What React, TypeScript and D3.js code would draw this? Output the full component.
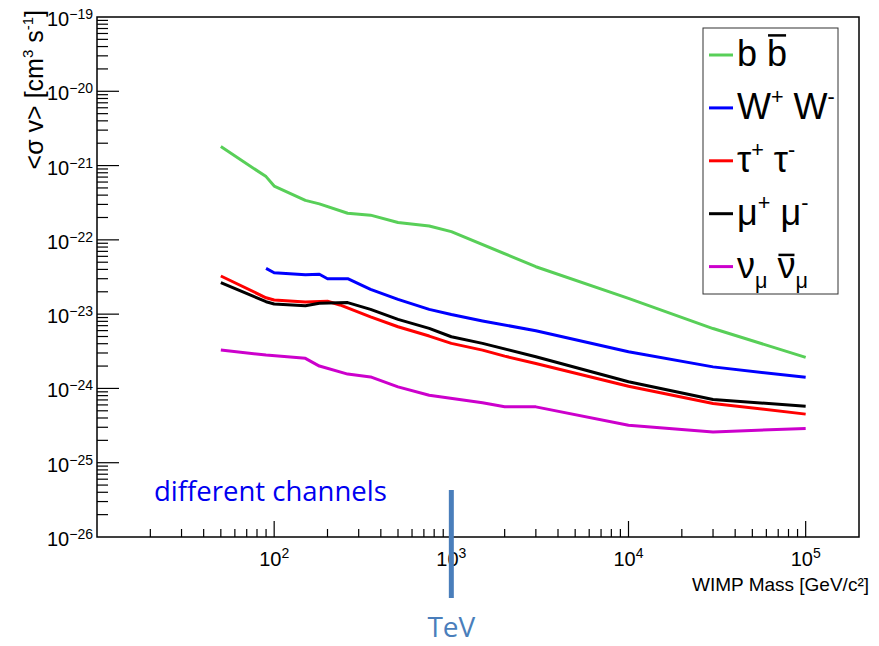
import React, { useRef, useEffect } from 'react';
import * as d3 from 'd3';

// canvas + frame
const width = 879;
const height = 646;
const frameLeft = 97;
const frameRight = 859;
const frameTop = 17;
const frameBottom = 537;

const axisFont = 'Liberation Sans, Arial, sans-serif';
const slideFont = 'Open Sans, sans-serif';

// data (mass in GeV, <sigma v> in cm^3 s^-1)
const bbMass = [50, 90, 100, 150, 180, 260, 350, 500, 750, 1000, 3000, 10000, 30000, 100000];
const bbSigma = [1.8e-21, 7.1e-22, 5.3e-22, 3.4e-22, 3.05e-22, 2.28e-22, 2.15e-22, 1.71e-22, 1.54e-22, 1.29e-22, 4.35e-23, 1.63e-23, 6.4e-24, 2.62e-24];

const wwMass = [90, 100, 150, 180, 200, 260, 350, 500, 750, 1000, 1500, 3000, 10000, 30000, 100000];
const wwSigma = [4.14e-23, 3.61e-23, 3.4e-23, 3.44e-23, 3.0e-23, 3.0e-23, 2.16e-23, 1.58e-23, 1.16e-23, 9.9e-24, 8.1e-24, 5.97e-24, 3.11e-24, 1.95e-24, 1.41e-24];

const tauMass = [50, 90, 100, 150, 200, 235, 350, 500, 750, 1000, 1500, 2000, 3000, 10000, 30000, 100000];
const tauSigma = [3.26e-23, 1.66e-23, 1.55e-23, 1.46e-23, 1.49e-23, 1.33e-23, 9.2e-24, 6.76e-24, 5.07e-24, 4.04e-24, 3.28e-24, 2.72e-24, 2.17e-24, 1.07e-24, 6.28e-25, 4.51e-25];

const muMass = [50, 90, 100, 150, 180, 260, 350, 500, 750, 1000, 1500, 3000, 10000, 30000, 100000];
const muSigma = [2.65e-23, 1.47e-23, 1.37e-23, 1.3e-23, 1.4e-23, 1.43e-23, 1.16e-23, 8.5e-24, 6.44e-24, 4.96e-24, 4.04e-24, 2.67e-24, 1.23e-24, 7.1e-25, 5.77e-25];

const nuMass = [50, 90, 150, 180, 260, 350, 500, 750, 1500, 2000, 3000, 10000, 30000, 100000];
const nuSigma = [3.28e-24, 2.81e-24, 2.54e-24, 2.0e-24, 1.56e-24, 1.43e-24, 1.05e-24, 8.1e-25, 6.4e-25, 5.65e-25, 5.65e-25, 3.2e-25, 2.6e-25, 2.89e-25];

// tick labels
const xMajor = [1e2, 1e3, 1e4, 1e5];
const xExp = ['2', '3', '4', '5'];
const yMajor = [1e-26, 1e-25, 1e-24, 1e-23, 1e-22, 1e-21, 1e-20, 1e-19];
const yExp = ['\u221226', '\u221225', '\u221224', '\u221223', '\u221222', '\u221221', '\u221220', '\u221219'];

// 'bar' = letter with an overbar, the number is how high the bar sits (in em)
type Part = [string, 'n' | 'sup' | 'sub' | 'bar', number?];

const channels: { mass: number[]; sigma: number[]; color: string; label: Part[] }[] = [
    { mass: bbMass, sigma: bbSigma, color: '#58cf58', label: [['b ', 'n'], ['b', 'bar', 0.85]] },
    { mass: wwMass, sigma: wwSigma, color: '#0000ff', label: [['W', 'n'], ['+', 'sup'], [' W', 'n'], ['-', 'sup']] },
    { mass: tauMass, sigma: tauSigma, color: '#ff0000', label: [['\u03c4', 'n'], ['+', 'sup'], [' \u03c4', 'n'], ['-', 'sup']] },
    { mass: muMass, sigma: muSigma, color: '#000000', label: [['\u03bc', 'n'], ['+', 'sup'], [' \u03bc', 'n'], ['-', 'sup']] },
    { mass: nuMass, sigma: nuSigma, color: '#cc00cc', label: [['\u03bd', 'n'], ['\u03bc', 'sub'], [' ', 'n'], ['\u03bd', 'bar', 0.63], ['\u03bc', 'sub']] },
];

// writes normal / superscript / subscript pieces into a <text>, returns overbar spans
function richText(sel: any, parts: Part[], size: number) {
    let shift = 0;
    const bars: { node: any; rise: number }[] = [];
    parts.forEach(([str, kind, rise]) => {
        const target = kind === 'sup' ? -0.42 * size : kind === 'sub' ? 0.28 * size : 0;
        const ts = sel.append('tspan')
            .attr('dy', target - shift)
            .attr('font-size', kind === 'sup' || kind === 'sub' ? size * 0.6 : size)
            .text(str);
        if (kind === 'bar') bars.push({ node: ts.node(), rise: (rise || 0.8) * size });
        shift = target;
    });
    return bars;
}

export default function App() {
    const svgRef = useRef<SVGSVGElement>(null);

    useEffect(() => {
        if (!svgRef.current) return;
        const svg = d3.select(svgRef.current);
        svg.selectAll('*').remove();

        const x = d3.scaleLog().domain([10, 2e5]).range([frameLeft, frameRight]);
        const y = d3.scaleLog().domain([1e-26, 1e-19]).range([frameBottom, frameTop]);

        const isMajor = (v: number) => Math.abs(Math.log10(v) - Math.round(Math.log10(v))) < 1e-9;

        // frame
        svg.append('rect')
            .attr('x', frameLeft).attr('y', frameTop)
            .attr('width', frameRight - frameLeft).attr('height', frameBottom - frameTop)
            .attr('fill', 'none').attr('stroke', '#000').attr('stroke-width', 1.5);

        // x ticks (inside, pointing up)
        const xTicks = x.ticks().filter(v => v > 10 && v < 2e5);
        svg.append('g').selectAll('line').data(xTicks).enter().append('line')
            .attr('x1', d => x(d)).attr('x2', d => x(d))
            .attr('y1', frameBottom).attr('y2', d => frameBottom - (isMajor(d) ? 16 : 8))
            .attr('stroke', '#000').attr('stroke-width', 1.2);

        // y ticks (inside, pointing right)
        const yTicks = y.ticks().filter(v => v > 1e-26 && v < 1e-19);
        svg.append('g').selectAll('line').data(yTicks).enter().append('line')
            .attr('y1', d => y(d)).attr('y2', d => y(d))
            .attr('x1', frameLeft).attr('x2', d => frameLeft + (isMajor(d) ? 22 : 11))
            .attr('stroke', '#000').attr('stroke-width', 1.2);

        // x tick labels
        xMajor.forEach((v, i) => {
            const t = svg.append('text')
                .attr('x', x(v)).attr('y', frameBottom + 29)
                .attr('text-anchor', 'middle')
                .attr('font-family', axisFont).attr('fill', '#000');
            t.append('tspan').attr('font-size', 20).text('10');
            t.append('tspan').attr('font-size', 14).attr('dy', -8).text(xExp[i]);
        });

        // y tick labels
        yMajor.forEach((v, i) => {
            const t = svg.append('text')
                .attr('x', frameLeft - 4).attr('y', y(v) + 9)
                .attr('text-anchor', 'end')
                .attr('font-family', axisFont).attr('fill', '#000');
            t.append('tspan').attr('font-size', 20).text('10');
            t.append('tspan').attr('font-size', 14).attr('dy', -7).text(yExp[i]);
        });

        // axis titles
        svg.append('text')
            .attr('x', 869).attr('y', 591)
            .attr('text-anchor', 'end')
            .attr('font-family', axisFont).attr('font-size', 19)
            .text('WIMP Mass [GeV/c\u00b2]');

        const yTitle = svg.append('text')
            .attr('transform', 'translate(43,10) rotate(-90)')
            .attr('text-anchor', 'end')
            .attr('font-family', axisFont);
        richText(yTitle, [['<\u03c3 v> [cm', 'n'], ['3', 'sup'], [' s', 'n'], ['-1', 'sup'], [']', 'n']], 25);

        // curves
        const line = d3.line<[number, number]>()
            .x(d => x(d[0]))
            .y(d => y(d[1]));

        svg.append('g').selectAll('path').data(channels).enter().append('path')
            .attr('d', c => line(c.mass.map((m, i) => [m, c.sigma[i]] as [number, number])))
            .attr('fill', 'none')
            .attr('stroke', c => c.color)
            .attr('stroke-width', 3)
            .attr('stroke-linejoin', 'round');

        // legend
        const lg = svg.append('g');
        lg.append('rect')
            .attr('x', 703).attr('y', 28).attr('width', 135).attr('height', 266)
            .attr('fill', '#fff').attr('stroke', '#333').attr('stroke-width', 1);
        channels.forEach((c, i) => {
            const ly = 55 + i * 52.9;
            const base = ly + 11;
            lg.append('line')
                .attr('x1', 709).attr('x2', 733).attr('y1', ly).attr('y2', ly)
                .attr('stroke', c.color).attr('stroke-width', 3);
            const t = lg.append('text')
                .attr('x', 737).attr('y', base)
                .attr('font-family', axisFont).attr('fill', '#000');
            const bars = richText(t, c.label, 36);
            // overbars measured from the rendered glyphs
            bars.forEach(b => {
                const start = b.node.getStartPositionOfChar(0).x;
                const len = b.node.getComputedTextLength();
                lg.append('line')
                    .attr('x1', start + 1).attr('x2', start + len - 1)
                    .attr('y1', base - b.rise).attr('y2', base - b.rise)
                    .attr('stroke', '#000').attr('stroke-width', 2.5);
            });
        });

        // slide annotations
        svg.append('text')
            .attr('x', 154).attr('y', 501)
            .attr('font-family', slideFont).attr('font-size', 27.5)
            .attr('fill', '#0000f0')
            .text('different channels');

        svg.append('line')
            .attr('x1', x(1000)).attr('x2', x(1000))
            .attr('y1', 490).attr('y2', 598)
            .attr('stroke', '#4a7ebb').attr('stroke-width', 5);

        svg.append('text')
            .attr('x', x(1000)).attr('y', 637)
            .attr('text-anchor', 'middle')
            .attr('font-family', slideFont).attr('font-size', 28)
            .attr('fill', '#4a7ebb')
            .text('TeV');
    }, []);

    return (
        <svg ref={svgRef} width={width} height={height}
            style={{ position: 'absolute', left: 0, top: 0, background: '#fff' }} />
    );
}
